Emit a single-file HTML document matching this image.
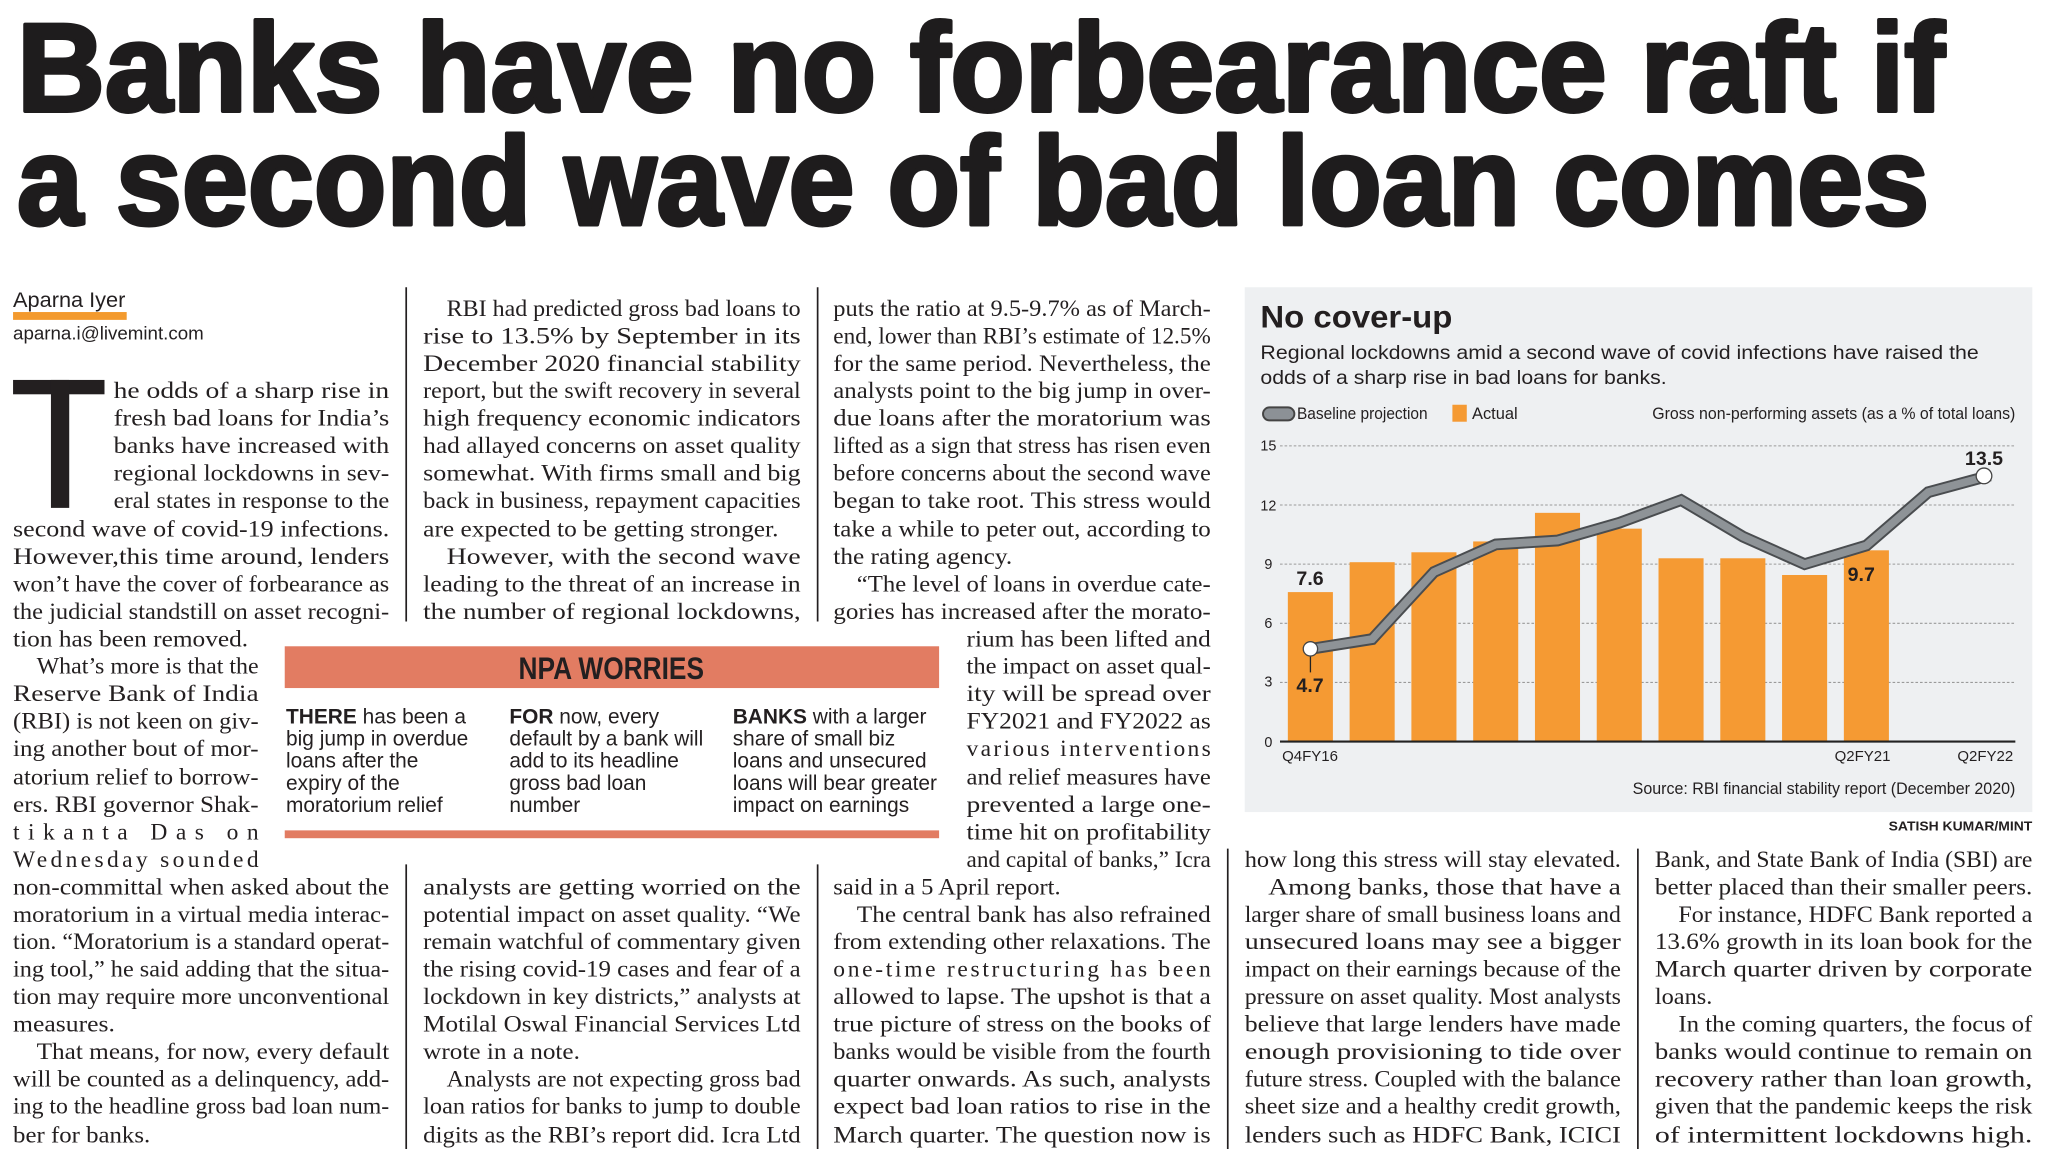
<!DOCTYPE html>
<html><head><meta charset="utf-8">
<style>
html,body{margin:0;padding:0;background:#fff;}
svg{display:block;}
.h{font-family:"Liberation Sans",sans-serif;font-weight:bold;fill:#1e1c1d;stroke:#1e1c1d;stroke-width:3;stroke-linejoin:round;font-size:96px;}
.b{font-family:"Liberation Serif",serif;font-size:18px;fill:#231f20;}
.s{font-family:"Liberation Sans",sans-serif;fill:#231f20;}
</style></head><body>
<svg width="2048" height="1162" viewBox="0 0 1568 890" preserveAspectRatio="none" xmlns="http://www.w3.org/2000/svg">
<rect width="1568" height="890" fill="#fff"/>
<!-- Headline -->
<text class="h" x="13" y="85" textLength="1476" lengthAdjust="spacingAndGlyphs">Banks have no forbearance raft if</text>
<text class="h" x="13" y="172" textLength="1464" lengthAdjust="spacingAndGlyphs">a second wave of bad loan comes</text>

<!-- byline -->
<text class="s" x="10" y="235" font-size="16" fill="#555" textLength="86" lengthAdjust="spacingAndGlyphs" style="font-weight:300">Aparna Iyer</text>
<rect x="10" y="239" width="87" height="6" fill="#f39a2e"/>
<text class="s" x="10" y="260" font-size="14" textLength="146" lengthAdjust="spacingAndGlyphs">aparna.i@livemint.com</text>

<!-- rules -->
<g stroke="#231f20" stroke-width="1.3">
<line x1="311" y1="220" x2="311" y2="476"/>
<line x1="626" y1="220" x2="626" y2="476"/>
<line x1="311" y1="662" x2="311" y2="880"/>
<line x1="626" y1="662" x2="626" y2="880"/>
<line x1="940" y1="650" x2="940" y2="880"/>
<line x1="1254" y1="650" x2="1254" y2="880"/>
</g>

<!-- drop cap -->
<rect x="10" y="291" width="70" height="11" fill="#231f20"/>
<rect x="39" y="291" width="14" height="98" fill="#231f20"/>

<g class="b" lengthAdjust="spacingAndGlyphs">
<!-- col1 -->
<text x="87" y="305" textLength="211" lengthAdjust="spacingAndGlyphs">he odds of a sharp rise in</text>
<text x="87" y="326" textLength="211" lengthAdjust="spacingAndGlyphs">fresh bad loans for India’s</text>
<text x="87" y="347" textLength="211" lengthAdjust="spacingAndGlyphs">banks have increased with</text>
<text x="87" y="368" textLength="211" lengthAdjust="spacingAndGlyphs">regional lockdowns in sev-</text>
<text x="87" y="389" textLength="211" lengthAdjust="spacingAndGlyphs">eral states in response to the</text>
<text x="10" y="411" textLength="288" lengthAdjust="spacingAndGlyphs">second wave of covid-19 infections.</text>
<text x="10" y="432" textLength="288" lengthAdjust="spacingAndGlyphs">However,this time around, lenders</text>
<text x="10" y="453" textLength="288" lengthAdjust="spacingAndGlyphs">won’t have the cover of forbearance as</text>
<text x="10" y="474" textLength="288" lengthAdjust="spacingAndGlyphs">the judicial standstill on asset recogni-</text>
<text x="10" y="495" textLength="180" lengthAdjust="spacingAndGlyphs">tion has been removed.</text>
<text x="28" y="516" textLength="170" lengthAdjust="spacingAndGlyphs">What’s more is that the</text>
<text x="10" y="537" textLength="188" lengthAdjust="spacingAndGlyphs">Reserve Bank of India</text>
<text x="10" y="558" textLength="188" lengthAdjust="spacingAndGlyphs">(RBI) is not keen on giv-</text>
<text x="10" y="579" textLength="188" lengthAdjust="spacingAndGlyphs">ing another bout of mor-</text>
<text x="10" y="601" textLength="188" lengthAdjust="spacingAndGlyphs">atorium relief to borrow-</text>
<text x="10" y="622" textLength="188" lengthAdjust="spacingAndGlyphs">ers. RBI governor Shak-</text>
<text x="10" y="643" textLength="188" lengthAdjust="spacing">tikanta Das on</text>
<text x="10" y="664" textLength="188" lengthAdjust="spacing">Wednesday sounded</text>
<text x="10" y="685" textLength="288" lengthAdjust="spacingAndGlyphs">non-committal when asked about the</text>
<text x="10" y="706" textLength="288" lengthAdjust="spacingAndGlyphs">moratorium in a virtual media interac-</text>
<text x="10" y="727" textLength="288" lengthAdjust="spacingAndGlyphs">tion. “Moratorium is a standard operat-</text>
<text x="10" y="748" textLength="288" lengthAdjust="spacingAndGlyphs">ing tool,” he said adding that the situa-</text>
<text x="10" y="769" textLength="288" lengthAdjust="spacingAndGlyphs">tion may require more unconventional</text>
<text x="10" y="790" textLength="78" lengthAdjust="spacingAndGlyphs">measures.</text>
<text x="28" y="811" textLength="270" lengthAdjust="spacingAndGlyphs">That means, for now, every default</text>
<text x="10" y="832" textLength="288" lengthAdjust="spacingAndGlyphs">will be counted as a delinquency, add-</text>
<text x="10" y="853" textLength="288" lengthAdjust="spacingAndGlyphs">ing to the headline gross bad loan num-</text>
<text x="10" y="875" textLength="105" lengthAdjust="spacingAndGlyphs">ber for banks.</text>

<!-- col2 -->
<text x="342" y="242" textLength="271" lengthAdjust="spacingAndGlyphs">RBI had predicted gross bad loans to</text>
<text x="324" y="263" textLength="289" lengthAdjust="spacingAndGlyphs">rise to 13.5% by September in its</text>
<text x="324" y="284" textLength="289" lengthAdjust="spacingAndGlyphs">December 2020 financial stability</text>
<text x="324" y="305" textLength="289" lengthAdjust="spacingAndGlyphs">report, but the swift recovery in several</text>
<text x="324" y="326" textLength="289" lengthAdjust="spacingAndGlyphs">high frequency economic indicators</text>
<text x="324" y="347" textLength="289" lengthAdjust="spacingAndGlyphs">had allayed concerns on asset quality</text>
<text x="324" y="368" textLength="289" lengthAdjust="spacingAndGlyphs">somewhat. With firms small and big</text>
<text x="324" y="389" textLength="289" lengthAdjust="spacingAndGlyphs">back in business, repayment capacities</text>
<text x="324" y="411" textLength="272" lengthAdjust="spacingAndGlyphs">are expected to be getting stronger.</text>
<text x="342" y="432" textLength="271" lengthAdjust="spacingAndGlyphs">However, with the second wave</text>
<text x="324" y="453" textLength="289" lengthAdjust="spacingAndGlyphs">leading to the threat of an increase in</text>
<text x="324" y="474" textLength="289" lengthAdjust="spacingAndGlyphs">the number of regional lockdowns,</text>
<text x="324" y="685" textLength="289" lengthAdjust="spacingAndGlyphs">analysts are getting worried on the</text>
<text x="324" y="706" textLength="289" lengthAdjust="spacingAndGlyphs">potential impact on asset quality. “We</text>
<text x="324" y="727" textLength="289" lengthAdjust="spacingAndGlyphs">remain watchful of commentary given</text>
<text x="324" y="748" textLength="289" lengthAdjust="spacingAndGlyphs">the rising covid-19 cases and fear of a</text>
<text x="324" y="769" textLength="289" lengthAdjust="spacingAndGlyphs">lockdown in key districts,” analysts at</text>
<text x="324" y="790" textLength="289" lengthAdjust="spacingAndGlyphs">Motilal Oswal Financial Services Ltd</text>
<text x="324" y="811" textLength="120" lengthAdjust="spacingAndGlyphs">wrote in a note.</text>
<text x="342" y="832" textLength="271" lengthAdjust="spacingAndGlyphs">Analysts are not expecting gross bad</text>
<text x="324" y="853" textLength="289" lengthAdjust="spacingAndGlyphs">loan ratios for banks to jump to double</text>
<text x="324" y="875" textLength="289" lengthAdjust="spacingAndGlyphs">digits as the RBI’s report did. Icra Ltd</text>

<!-- col3 -->
<text x="638" y="242" textLength="289" lengthAdjust="spacingAndGlyphs">puts the ratio at 9.5-9.7% as of March-</text>
<text x="638" y="263" textLength="289" lengthAdjust="spacingAndGlyphs">end, lower than RBI’s estimate of 12.5%</text>
<text x="638" y="284" textLength="289" lengthAdjust="spacingAndGlyphs">for the same period. Nevertheless, the</text>
<text x="638" y="305" textLength="289" lengthAdjust="spacingAndGlyphs">analysts point to the big jump in over-</text>
<text x="638" y="326" textLength="289" lengthAdjust="spacingAndGlyphs">due loans after the moratorium was</text>
<text x="638" y="347" textLength="289" lengthAdjust="spacingAndGlyphs">lifted as a sign that stress has risen even</text>
<text x="638" y="368" textLength="289" lengthAdjust="spacingAndGlyphs">before concerns about the second wave</text>
<text x="638" y="389" textLength="289" lengthAdjust="spacingAndGlyphs">began to take root. This stress would</text>
<text x="638" y="411" textLength="289" lengthAdjust="spacingAndGlyphs">take a while to peter out, according to</text>
<text x="638" y="432" textLength="137" lengthAdjust="spacingAndGlyphs">the rating agency.</text>
<text x="656" y="453" textLength="271" lengthAdjust="spacingAndGlyphs">“The level of loans in overdue cate-</text>
<text x="638" y="474" textLength="289" lengthAdjust="spacingAndGlyphs">gories has increased after the morato-</text>
<text x="740" y="495" textLength="187" lengthAdjust="spacingAndGlyphs">rium has been lifted and</text>
<text x="740" y="516" textLength="187" lengthAdjust="spacingAndGlyphs">the impact on asset qual-</text>
<text x="740" y="537" textLength="187" lengthAdjust="spacingAndGlyphs">ity will be spread over</text>
<text x="740" y="558" textLength="187" lengthAdjust="spacingAndGlyphs">FY2021 and FY2022 as</text>
<text x="740" y="579" textLength="187" lengthAdjust="spacing">various interventions</text>
<text x="740" y="601" textLength="187" lengthAdjust="spacingAndGlyphs">and relief measures have</text>
<text x="740" y="622" textLength="187" lengthAdjust="spacingAndGlyphs">prevented a large one-</text>
<text x="740" y="643" textLength="187" lengthAdjust="spacingAndGlyphs">time hit on profitability</text>
<text x="740" y="664" textLength="187" lengthAdjust="spacingAndGlyphs">and capital of banks,” Icra</text>
<text x="638" y="685" textLength="174" lengthAdjust="spacingAndGlyphs">said in a 5 April report.</text>
<text x="656" y="706" textLength="271" lengthAdjust="spacingAndGlyphs">The central bank has also refrained</text>
<text x="638" y="727" textLength="289" lengthAdjust="spacingAndGlyphs">from extending other relaxations. The</text>
<text x="638" y="748" textLength="289" lengthAdjust="spacing">one-time restructuring has been</text>
<text x="638" y="769" textLength="289" lengthAdjust="spacingAndGlyphs">allowed to lapse. The upshot is that a</text>
<text x="638" y="790" textLength="289" lengthAdjust="spacingAndGlyphs">true picture of stress on the books of</text>
<text x="638" y="811" textLength="289" lengthAdjust="spacingAndGlyphs">banks would be visible from the fourth</text>
<text x="638" y="832" textLength="289" lengthAdjust="spacingAndGlyphs">quarter onwards. As such, analysts</text>
<text x="638" y="853" textLength="289" lengthAdjust="spacingAndGlyphs">expect bad loan ratios to rise in the</text>
<text x="638" y="875" textLength="289" lengthAdjust="spacingAndGlyphs">March quarter. The question now is</text>

<!-- col4 -->
<text x="953" y="664" textLength="288" lengthAdjust="spacingAndGlyphs">how long this stress will stay elevated.</text>
<text x="971" y="685" textLength="270" lengthAdjust="spacingAndGlyphs">Among banks, those that have a</text>
<text x="953" y="706" textLength="288" lengthAdjust="spacingAndGlyphs">larger share of small business loans and</text>
<text x="953" y="727" textLength="288" lengthAdjust="spacingAndGlyphs">unsecured loans may see a bigger</text>
<text x="953" y="748" textLength="288" lengthAdjust="spacingAndGlyphs">impact on their earnings because of the</text>
<text x="953" y="769" textLength="288" lengthAdjust="spacingAndGlyphs">pressure on asset quality. Most analysts</text>
<text x="953" y="790" textLength="288" lengthAdjust="spacingAndGlyphs">believe that large lenders have made</text>
<text x="953" y="811" textLength="288" lengthAdjust="spacingAndGlyphs">enough provisioning to tide over</text>
<text x="953" y="832" textLength="288" lengthAdjust="spacingAndGlyphs">future stress. Coupled with the balance</text>
<text x="953" y="853" textLength="288" lengthAdjust="spacingAndGlyphs">sheet size and a healthy credit growth,</text>
<text x="953" y="875" textLength="288" lengthAdjust="spacingAndGlyphs">lenders such as HDFC Bank, ICICI</text>

<!-- col5 -->
<text x="1267" y="664" textLength="289" lengthAdjust="spacingAndGlyphs">Bank, and State Bank of India (SBI) are</text>
<text x="1267" y="685" textLength="289" lengthAdjust="spacingAndGlyphs">better placed than their smaller peers.</text>
<text x="1285" y="706" textLength="271" lengthAdjust="spacingAndGlyphs">For instance, HDFC Bank reported a</text>
<text x="1267" y="727" textLength="289" lengthAdjust="spacingAndGlyphs">13.6% growth in its loan book for the</text>
<text x="1267" y="748" textLength="289" lengthAdjust="spacingAndGlyphs">March quarter driven by corporate</text>
<text x="1267" y="769" textLength="44" lengthAdjust="spacingAndGlyphs">loans.</text>
<text x="1285" y="790" textLength="271" lengthAdjust="spacingAndGlyphs">In the coming quarters, the focus of</text>
<text x="1267" y="811" textLength="289" lengthAdjust="spacingAndGlyphs">banks would continue to remain on</text>
<text x="1267" y="832" textLength="289" lengthAdjust="spacingAndGlyphs">recovery rather than loan growth,</text>
<text x="1267" y="853" textLength="289" lengthAdjust="spacingAndGlyphs">given that the pandemic keeps the risk</text>
<text x="1267" y="875" textLength="289" lengthAdjust="spacingAndGlyphs">of intermittent lockdowns high.</text>
</g>

<!-- NPA box -->
<rect x="218" y="495" width="501" height="32" fill="#e27c62"/>
<text class="s" x="468" y="520" font-size="24" font-weight="bold" fill="#fff" text-anchor="middle" textLength="142" lengthAdjust="spacingAndGlyphs">NPA WORRIES</text>
<rect x="218" y="636" width="501" height="6" fill="#e27c62"/>
<g class="s" font-size="16">
<text x="219" y="554"><tspan font-weight="bold">THERE</tspan> has been a</text>
<text x="219" y="571">big jump in overdue</text>
<text x="219" y="588">loans after the</text>
<text x="219" y="605">expiry of the</text>
<text x="219" y="622">moratorium relief</text>
<text x="390" y="554"><tspan font-weight="bold">FOR</tspan> now, every</text>
<text x="390" y="571">default by a bank will</text>
<text x="390" y="588">add to its headline</text>
<text x="390" y="605">gross bad loan</text>
<text x="390" y="622">number</text>
<text x="561" y="554"><tspan font-weight="bold">BANKS</tspan> with a larger</text>
<text x="561" y="571">share of small biz</text>
<text x="561" y="588">loans and unsecured</text>
<text x="561" y="605">loans will bear greater</text>
<text x="561" y="622">impact on earnings</text>
</g>

<!-- Chart panel -->
<rect x="953" y="220" width="603" height="402" fill="#eef0f2"/>
<text class="s" x="965" y="251" font-size="24" font-weight="bold" textLength="147" lengthAdjust="spacingAndGlyphs">No cover-up</text>
<text class="s" x="965" y="275" font-size="15" textLength="550" lengthAdjust="spacingAndGlyphs">Regional lockdowns amid a second wave of covid infections have raised the</text>
<text class="s" x="965" y="294" font-size="15" textLength="311" lengthAdjust="spacingAndGlyphs">odds of a sharp rise in bad loans for banks.</text>
<rect x="967" y="312" width="24" height="10" rx="5" fill="#8c9196" stroke="#444" stroke-width="1.5"/>
<text class="s" x="993" y="321" font-size="12.5" textLength="100" lengthAdjust="spacingAndGlyphs">Baseline projection</text>
<rect x="1112" y="310" width="11" height="13" fill="#f59a33"/>
<text class="s" x="1127" y="321" font-size="12.5" textLength="35" lengthAdjust="spacingAndGlyphs">Actual</text>
<text class="s" x="1543" y="321" font-size="12.5" text-anchor="end" textLength="278" lengthAdjust="spacingAndGlyphs">Gross non-performing assets (as a % of total loans)</text>

<g stroke="#9a9a9a" stroke-width="0.8" stroke-dasharray="2,1.5">
<line x1="980" y1="341.5" x2="1543" y2="341.5"/>
<line x1="980" y1="386.8" x2="1543" y2="386.8"/>
<line x1="980" y1="432.1" x2="1543" y2="432.1"/>
<line x1="980" y1="477.4" x2="1543" y2="477.4"/>
<line x1="980" y1="522.7" x2="1543" y2="522.7"/>
</g>
<g class="s" font-size="11" fill="#333">
<text x="965" y="345">15</text><text x="965" y="391">12</text><text x="968" y="436">9</text>
<text x="968" y="481">6</text><text x="968" y="526">3</text><text x="968" y="572">0</text>
</g>
<g fill="#f59a33">
<rect x="986" y="453.5" width="34.5" height="114.5"/>
<rect x="1033.3" y="430.6" width="34.5" height="137.4"/>
<rect x="1080.6" y="423" width="34.5" height="145"/>
<rect x="1127.9" y="414.7" width="34.5" height="153.3"/>
<rect x="1175.2" y="392.8" width="34.5" height="175.2"/>
<rect x="1222.5" y="404.9" width="34.5" height="163.1"/>
<rect x="1269.8" y="427.6" width="34.5" height="140.4"/>
<rect x="1317.1" y="427.6" width="34.5" height="140.4"/>
<rect x="1364.4" y="440.4" width="34.5" height="127.6"/>
<rect x="1411.7" y="421.5" width="34.5" height="146.5"/>
</g>
<line x1="980" y1="568" x2="1543" y2="568" stroke="#222" stroke-width="1.6"/>
<polyline fill="none" stroke="#4a4d50" stroke-width="9" stroke-linejoin="miter" points="1003.3,497 1050.6,489.5 1097.9,438.1 1145.2,417 1192.5,414 1239.8,400.4 1287.1,383 1334.4,411 1381.7,432.1 1429,417.8 1476.3,377 1523.6,364.2"/>
<polyline fill="none" stroke="#8e9397" stroke-width="6" stroke-linejoin="miter" points="1003.3,497 1050.6,489.5 1097.9,438.1 1145.2,417 1192.5,414 1239.8,400.4 1287.1,383 1334.4,411 1381.7,432.1 1429,417.8 1476.3,377 1523.6,364.2"/>
<line x1="1003.3" y1="502" x2="1003.3" y2="515" stroke="#222" stroke-width="1"/>
<circle cx="1003.3" cy="497" r="5.5" fill="#fff" stroke="#444" stroke-width="1"/>
<circle cx="1519" cy="364.5" r="6" fill="#fff" stroke="#444" stroke-width="1"/>
<g class="s" font-size="15" font-weight="bold" fill="#1e1c1d">
<text x="1003" y="448" text-anchor="middle">7.6</text>
<text x="1003" y="530" text-anchor="middle">4.7</text>
<text x="1425" y="445" text-anchor="middle">9.7</text>
<text x="1519" y="356" text-anchor="middle">13.5</text>
</g>
<g class="s" font-size="11.5" fill="#333">
<text x="1003" y="583" text-anchor="middle">Q4FY16</text>
<text x="1426" y="583" text-anchor="middle">Q2FY21</text>
<text x="1520" y="583" text-anchor="middle">Q2FY22</text>
<text x="1543" y="608" text-anchor="end" font-size="12.5" textLength="293" lengthAdjust="spacingAndGlyphs">Source: RBI financial stability report (December 2020)</text>
</g>
<text class="s" x="1556" y="636" font-size="10" font-weight="bold" text-anchor="end" textLength="110" lengthAdjust="spacingAndGlyphs">SATISH KUMAR/MINT</text>
</svg>
</body></html>
